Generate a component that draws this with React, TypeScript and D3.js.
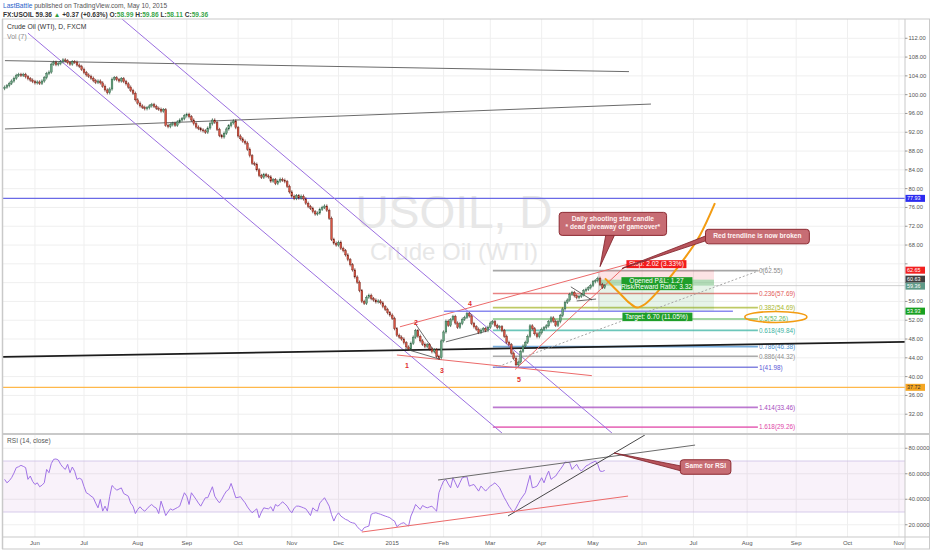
import React from "react";
import * as d3 from "d3";

// ---- data ----
const FIRST_BAR = new Date(2014, 4, 14);
const TOTAL_BARS = 390;

// daily closes, May 14 2014 .. May 8 2015
const CLOSES = [
  101.6, 101.9, 102.4, 102.9, 103.5, 104.1, 104.3, 104.1, 104.3, 103.8,
  103.4, 103.1, 102.8, 102.5, 102.7, 102.4, 102.9, 103.6, 104.5, 104.8,
  106.5, 106.9, 106.4, 106.6, 107.0, 107.4, 107.2, 106.8, 106.5, 107.0,
  106.9, 106.3, 106.0, 105.4, 104.7, 104.2, 103.9, 103.5, 103.0, 102.6,
  102.9, 102.5, 101.8, 101.0, 100.4, 101.2, 103.3, 103.6, 103.2, 102.9,
  103.4, 102.8, 102.3, 101.6, 100.9, 100.3, 98.9, 98.2, 97.6, 97.3,
  97.0, 97.2, 97.6, 97.9, 97.5, 97.1, 96.9, 96.5, 96.8, 93.5,
  93.2, 93.6, 93.9, 93.5, 94.2, 94.6, 94.9, 95.5, 95.8, 95.3,
  94.6, 93.8, 93.1, 92.8, 92.5, 92.3, 92.0, 92.9, 93.8, 94.6,
  94.1, 92.6, 91.3, 91.0, 91.8, 92.7, 93.4, 94.0, 94.4, 93.0,
  91.2, 90.6, 90.1, 89.7, 88.4, 87.0, 85.4, 85.2, 84.0, 82.8,
  82.4, 83.0, 82.7, 82.5, 81.6, 81.9, 81.1, 81.6, 82.0, 81.8,
  81.5, 80.5, 79.3, 78.4, 77.9, 78.5, 78.0, 78.4, 77.8, 76.9,
  76.2, 75.8, 75.1, 74.6, 74.8, 75.6, 76.0, 76.3, 75.4, 73.7,
  69.2, 68.4, 68.0, 68.6, 67.3, 66.8, 65.9, 64.9, 63.8, 62.7,
  61.2, 60.1, 58.3, 56.0, 55.6, 56.9, 57.3, 56.6, 56.3, 55.9,
  56.1, 55.7, 54.9, 54.3, 53.6, 53.1, 52.4, 50.2, 48.8, 48.4,
  48.0, 47.2, 46.3, 45.9, 47.1, 48.4, 49.8, 48.6, 47.6, 46.9,
  46.4, 46.8, 45.9, 45.3, 45.7, 44.3, 44.0, 47.6, 49.5, 51.8,
  50.9, 52.1, 52.8, 51.4, 50.5, 51.3, 52.2, 52.6, 53.4, 52.9,
  51.3, 50.6, 50.1, 49.4, 49.9, 50.2, 49.8, 50.5, 51.4, 51.7,
  50.9, 50.4, 50.6, 49.8, 48.6, 47.3, 46.8, 45.0, 43.9, 42.5,
  43.1, 45.4, 46.5, 47.3, 48.6, 50.8, 50.2, 49.1, 48.5, 49.3,
  50.1, 50.4, 50.8, 51.7, 52.5, 51.8, 50.9, 51.7, 53.0, 54.4,
  55.8, 56.3, 57.5, 57.9, 57.2, 56.8, 57.1, 57.4, 58.3, 58.6,
  58.9, 59.4, 60.2, 60.4, 60.9, 59.6, 58.99, 59.36,
];

// RSI(14, close) per bar
const RSI = [
  55.6, 52.9, 54.5, 56.9, 60.5, 64.8, 65.5, 66.6, 65.8, 64.8,
  55.6, 58.2, 54.0, 51.6, 52.9, 49.8, 51.0, 52.9, 63.4, 60.8,
  68.0, 71.3, 71.6, 70.8, 67.4, 65.0, 63.4, 67.4, 60.8, 65.3,
  62.0, 55.6, 56.5, 55.6, 50.0, 45.1, 44.0, 42.5, 41.2, 37.0,
  33.3, 39.9, 30.7, 34.6, 30.7, 42.0, 50.8, 49.0, 47.1, 48.0,
  48.9, 44.5, 43.5, 42.4, 37.0, 34.6, 28.8, 32.0, 34.1, 32.0,
  30.7, 32.5, 34.6, 35.9, 34.1, 33.0, 28.8, 38.5, 33.0, 27.2,
  30.0, 32.5, 31.5, 32.5, 33.5, 34.6, 40.0, 45.1, 42.4, 35.9,
  45.1, 42.5, 39.9, 37.0, 34.6, 38.0, 41.2, 41.2, 45.5, 49.8,
  42.4, 39.5, 37.2, 40.0, 43.5, 46.4, 47.7, 52.4, 47.0, 41.2,
  41.5, 42.0, 39.5, 37.2, 34.0, 31.5, 29.4, 31.0, 32.5, 25.5,
  30.0, 33.3, 32.8, 32.5, 34.1, 30.7, 35.9, 34.6, 36.0, 38.0,
  36.5, 34.6, 31.5, 29.4, 33.0, 34.6, 34.6, 34.0, 33.3, 32.5,
  30.0, 27.2, 33.3, 31.5, 30.7, 37.2, 39.0, 41.2, 38.0, 34.6,
  28.0, 22.9, 27.0, 29.4, 26.8, 25.5, 24.2, 23.5, 22.1, 21.5,
  21.1, 18.5, 16.5, 15.1, 17.7, 18.4, 19.0, 28.2, 29.0, 29.4,
  28.8, 28.2, 27.5, 26.8, 26.2, 25.5, 24.0, 22.9, 18.5, 20.0,
  21.1, 21.6, 20.0, 19.0, 26.8, 31.0, 35.9, 34.0, 32.0, 35.1,
  34.0, 33.3, 34.0, 34.6, 32.5, 30.7, 45.1, 50.0, 54.3, 55.6,
  52.0, 49.0, 56.9, 53.0, 49.0, 53.0, 56.9, 57.3, 57.7, 50.3,
  51.0, 51.6, 49.0, 46.4, 50.3, 48.5, 46.4, 48.5, 50.3, 51.5,
  52.9, 51.0, 49.0, 45.0, 41.2, 38.0, 34.6, 32.0, 29.9, 33.0,
  36.5, 39.9, 42.5, 45.1, 52.0, 58.7, 49.0, 49.5, 50.3, 53.5,
  56.9, 52.9, 58.0, 62.1, 55.6, 57.0, 58.2, 61.0, 63.5, 66.1,
  69.2, 68.9, 68.7, 63.4, 65.5, 67.4, 64.0, 62.1, 64.0, 66.1,
  67.0, 68.2, 69.0, 70.0, 67.4, 62.1, 61.8, 62.6,
];

const PRICE_TICKS = [32, 36, 40, 44, 48, 52, 56, 60, 64, 68, 72, 76, 80, 84, 88, 92, 96, 100, 104, 108, 112];
const RSI_TICKS = [20, 40, 60, 80];
const MONTH_ABBR = ["Jan", "Feb", "Mar", "Apr", "May", "Jun", "Jul", "Aug", "Sep", "Oct", "Nov", "Dec"];

// drawings: [bar, price]
const TRENDLINES: { kind: string; a: [number, number]; b: [number, number] }[] = [
  { kind: "gray", a: [0.15, 107.24], b: [267.4, 104.9] },
  { kind: "gray", a: [0.15, 92.7], b: [276.8, 98.0] },
  { kind: "channel", a: [10, 113.1], b: [213, 28.0] },
  { kind: "channel", a: [49.8, 116.3], b: [260.1, 28.0] },
  { kind: "support", a: [-2, 44.2], b: [385.6, 47.4] },
  { kind: "red", a: [169.3, 50.6], b: [270.4, 64.4] },
  { kind: "red", a: [218.6, 41.5], b: [267.8, 64.4] },
  { kind: "red", a: [168, 44.6], b: [251.5, 40.2] },
  { kind: "thin", a: [175.7, 51.4], b: [186.4, 43.7] },
  { kind: "thin", a: [171.5, 45.9], b: [186.4, 43.7] },
  { kind: "thin", a: [189, 47.4], b: [206.6, 49.7] },
  { kind: "thin", a: [242.5, 59.1], b: [251.5, 56.3] },
  { kind: "thin", a: [245, 56.1], b: [253.3, 56.5] },
  { kind: "target", a: [188.2, 53.93], b: [311.9, 53.93] },
  { kind: "dotted", a: [210, 41.9], b: [327.8, 63.4] },
];

const HLINES = [
  { kind: "blue", price: 77.93 },
  { kind: "orange", price: 37.72 },
];

const FIB_BARS: [number, number] = [209.1, 322.6];
const FIB_LEVELS = [0, 0.236, 0.382, 0.5, 0.618, 0.786, 0.886, 1, 1.414, 1.618];
const FIB_PRICES = [62.55, 57.69, 54.69, 52.26, 49.84, 46.38, 44.32, 41.98, 33.46, 29.26];
const FIB_COLORS = ["#8a8a8a", "#e25a5a", "#aab830", "#5cb85c", "#3bb3a3", "#4a90d0", "#8f8f8f", "#5b5bd6", "#a64cc0", "#e048a8"];

const ENTRY = 60.63;
const STOP = 62.65;
const TARGET = 53.93;
const LAST = 59.36;
const POS_BARS: [number, number] = [254.5, 303.8];

const PROJECTION: [number, number][] = [
  [257.1, 60.9], [263.5, 57.7], [267.8, 55.6], [270.8, 54.7], [274.2, 55.4],
  [280.6, 58.6], [291.8, 65.6], [297.8, 70.1], [304.2, 76.9],
];

const ELLIPSE = { bar: 330.3, price: 52.7, dBar: 13.3, dPrice: 1.17 };

const WAVES = [
  { t: "1", bar: 172.3, price: 42.3 },
  { t: "2", bar: 176.2, price: 51.6 },
  { t: "3", bar: 187.3, price: 41.4 },
  { t: "4", bar: 199.3, price: 55.5 },
  { t: "5", bar: 220.3, price: 39.3 },
];

const CALLOUTS = [
  { pane: "price", lines: ["Daily shooting star candle", "* dead giveaway of gameover*"], box: [260.5, 72.5], tip: [255, 63.4], side: "bottom" },
  { pane: "price", lines: ["Red trendline is now broken"], box: [322.4, 69.8], tip: [264.4, 63.0], side: "left" },
  { pane: "rsi", lines: ["Same for RSI"], box: [300.2, 65.3], tip: [261, 76.3], side: "left" },
];

const RSI_LINES: { kind: string; a: [number, number]; b: [number, number] }[] = [
  { kind: "gray", a: [185.6, 55.1], b: [295.7, 82.5] },
  { kind: "black", a: [215.6, 26.9], b: [274.2, 90.4] },
  { kind: "red", a: [153, 14.3], b: [267, 42.5] },
];

const AXIS_MARKS = [
  { v: 77.93, kind: "blue" },
  { v: 62.65, kind: "stop" },
  { v: 60.63, kind: "entry" },
  { v: 59.36, kind: "last" },
  { v: 53.93, kind: "target" },
  { v: 37.72, kind: "orange" },
];

// ---- styles ----
const FONT = "'Liberation Sans', Arial, sans-serif";
const LINE_STYLE: Record<string, { stroke: string; w: number; dash?: string }> = {
  gray: { stroke: "#6b6b6b", w: 1 },
  channel: { stroke: "#9b6fe0", w: 1 },
  support: { stroke: "#1c1c1c", w: 1.8 },
  red: { stroke: "#ec6a6a", w: 1 },
  thin: { stroke: "#444", w: 0.8 },
  target: { stroke: "#8a8af0", w: 1.5 },
  dotted: { stroke: "#a8a8a8", w: 1, dash: "2 2" },
  blue: { stroke: "#6a6ae6", w: 1.2 },
  orange: { stroke: "#ffb84a", w: 1.2 },
  black: { stroke: "#333", w: 0.9 },
};
const MARK_COLOR: Record<string, string> = {
  blue: "#2b2bf0", stop: "#f22020", entry: "#3f3f3f", last: "#5f9a88", target: "#18a020", orange: "#f5a623",
};
const UP = "#6ba583", UP_B = "#225437", DN = "#d75442", DN_B = "#5b1a13";

const W = 932, H = 550;
const L = 3, R = 905;
const P_TOP = 19, P_BOT = 433, R_TOP = 435, R_BOT = 537;

const xS = d3.scaleLinear().domain([0, 385]).range([4.6, 903.6]);
const yP = d3.scaleLinear().domain([28, 116.1]).range([P_BOT, P_TOP]);
const yR = d3.scaleLinear().domain([10.4, 90.4]).range([R_BOT, R_TOP]);

function tradingDays(start: Date, n: number) {
  const out: Date[] = [];
  const d = new Date(start);
  while (out.length < n) {
    const wd = d.getDay();
    if (wd !== 0 && wd !== 6) out.push(new Date(d));
    d.setDate(d.getDate() + 1);
  }
  return out;
}

const Callout: React.FC<{ c: typeof CALLOUTS[number] }> = ({ c }) => {
  const yS = c.pane === "rsi" ? yR : yP;
  const cx = xS(c.box[0]);
  const cy = yS(c.box[1]);
  const maxLen = d3.max(c.lines, s => s.length) ?? 0;
  const w = maxLen * 3.55 + 8;
  const h = c.lines.length * 8.5 + 6;
  const x0 = cx - w / 2, y0 = cy - h / 2;
  const tx = xS(c.tip[0]), ty = yS(c.tip[1]);
  const base = c.side === "bottom"
    ? [[cx - 7, y0 + h - 1], [cx + 2, y0 + h - 1]]
    : [[x0 + 1, cy - 1], [x0 + 1, cy + 4]];
  const pts = [base[0], [tx, ty], base[1]].map(p => p.join(",")).join(" ");
  return (
    <g>
      <polygon points={pts} fill="#b8545c" stroke="#7d1f27" strokeWidth={0.8} />
      <rect x={x0} y={y0} width={w} height={h} rx={3} fill="#c76d74" stroke="#8c2a31" strokeWidth={1} />
      {c.lines.map((s, i) => (
        <text key={i} x={cx} y={y0 + 8.5 + i * 8.5} textAnchor="middle" fontSize={6.6} fontWeight="bold" fill="#fff3f3" fontFamily={FONT}>{s}</text>
      ))}
    </g>
  );
};

export default function App() {
  const days = tradingDays(FIRST_BAR, TOTAL_BARS);
  const monthTicks: { i: number; label: string }[] = [];
  days.forEach((d, i) => {
    if (i > 0 && d.getMonth() !== days[i - 1].getMonth()) {
      const jan = d.getMonth() === 0;
      monthTicks.push({ i, label: jan ? String(d.getFullYear()) : MONTH_ABBR[d.getMonth()] });
    }
  });

  const WICK = 0.35;
  const candles = CLOSES.map((c, i) => {
    const o = i > 0 ? CLOSES[i - 1] : c - 0.3;
    return { i, o, c, h: Math.max(o, c) + WICK, l: Math.min(o, c) - WICK };
  });

  const rsiLine = d3.line<number>().x((_, i) => xS(i)).y(v => yR(v))(RSI) ?? "";
  const projLine = d3.line<[number, number]>().x(d => xS(d[0])).y(d => yP(d[1])).curve(d3.curveCatmullRom.alpha(0.5))(PROJECTION) ?? "";

  const fib = FIB_LEVELS.map((lv, k) => ({ lv, price: FIB_PRICES[k], color: FIB_COLORS[k] }));

  const px0 = xS(POS_BARS[0]), px1 = xS(POS_BARS[1]);
  const pcx = (px0 + px1) / 2;

  // axis price tags: stack them so neighbouring tags do not overlap
  const TAG_H = 7;
  const tags = AXIS_MARKS.map(m => ({ ...m, y: yP(m.v) })).sort((a, b) => a.y - b.y);
  for (let k = 1; k < tags.length; k++) {
    const gap = tags[k].y - tags[k - 1].y;
    if (gap < TAG_H) {
      const push = (TAG_H - gap) / 2;
      tags[k - 1].y -= push;
      tags[k].y += push;
    }
  }
  // tick labels hidden under a tag are not drawn (as on the chart)
  const visibleTicks = PRICE_TICKS.filter(v => tags.every(t => Math.abs(t.y - yP(v)) > 6.5));

  return (
    <div>
      <style>{`body{margin:0;background:#fff}`}</style>
      <svg width={W} height={H} style={{ display: "block", fontFamily: FONT }}>
        <defs>
          <clipPath id="cp-price"><rect x={L} y={P_TOP} width={R - L} height={P_BOT - P_TOP} /></clipPath>
          <clipPath id="cp-rsi"><rect x={L} y={R_TOP} width={R - L} height={R_BOT - R_TOP} /></clipPath>
        </defs>
        <rect width={W} height={H} fill="#fff" />

        {/* header */}
        <text x={3} y={8} fontSize={6.6}>
          <tspan fill="#2a62c9">LastBattle</tspan>
          <tspan fill="#555"> published on TradingView.com, May 10, 2015</tspan>
        </text>
        <text x={3} y={16.5} fontSize={6.6} fontWeight="bold" fill="#333">
          <tspan>FX:USOIL 59.36 </tspan>
          <tspan fill="#2e9e3e">▲</tspan>
          <tspan> +0.37 (+0.63%) O:</tspan><tspan fill="#3aa64a">58.99</tspan>
          <tspan> H:</tspan><tspan fill="#3aa64a">59.86</tspan>
          <tspan> L:</tspan><tspan fill="#3aa64a">58.11</tspan>
          <tspan> C:</tspan><tspan fill="#3aa64a">59.36</tspan>
        </text>

        {/* grids */}
        <g stroke="#efefef" strokeWidth={1}>
          {PRICE_TICKS.map(v => <line key={v} x1={L} x2={R} y1={yP(v)} y2={yP(v)} />)}
          {RSI_TICKS.map(v => <line key={"r" + v} x1={L} x2={R} y1={yR(v)} y2={yR(v)} />)}
          {monthTicks.map(t => (
            <g key={t.i}>
              <line x1={xS(t.i)} x2={xS(t.i)} y1={P_TOP} y2={P_BOT} />
              <line x1={xS(t.i)} x2={xS(t.i)} y1={R_TOP} y2={R_BOT} />
            </g>
          ))}
        </g>

        {/* price pane */}
        <g clipPath="url(#cp-price)">
          <text x={(L + R) / 2} y={(P_TOP + P_BOT) / 2 + 2} textAnchor="middle" fontSize={46} fill="#e7e7e7">USOIL, D</text>
          <text x={(L + R) / 2} y={(P_TOP + P_BOT) / 2 + 34} textAnchor="middle" fontSize={24} fill="#e7e7e7">Crude Oil (WTI)</text>

          {HLINES.map((h, k) => {
            const s = LINE_STYLE[h.kind];
            return <line key={k} x1={L} x2={R} y1={yP(h.price)} y2={yP(h.price)} stroke={s.stroke} strokeWidth={s.w} />;
          })}
          <line x1={px1} x2={R} y1={yP(LAST)} y2={yP(LAST)} stroke="#c4c4c4" strokeWidth={0.8} />

          {/* fib retracement */}
          {fib.map(f => (
            <g key={f.lv}>
              <line x1={xS(FIB_BARS[0])} x2={xS(FIB_BARS[1])} y1={yP(f.price)} y2={yP(f.price)} stroke={f.color} strokeWidth={1.6} strokeOpacity={0.75} />
              <text x={xS(FIB_BARS[1]) + 1} y={yP(f.price) + 2.3} fontSize={6.4} fill={f.color}>{`${f.lv}(${f.price.toFixed(2)})`}</text>
            </g>
          ))}

          {/* short position */}
          <rect x={px0} y={yP(STOP)} width={px1 - px0} height={yP(ENTRY) - yP(STOP)} fill="#f23645" fillOpacity={0.14} />
          <rect x={px0} y={yP(ENTRY)} width={px1 - px0} height={yP(TARGET) - yP(ENTRY)} fill="#3aa54a" fillOpacity={0.13} />
          <rect x={px0} y={yP(ENTRY)} width={px1 - px0} height={yP(LAST) - yP(ENTRY)} fill="#3aa54a" fillOpacity={0.3} />
          <line x1={px0} x2={px0} y1={yP(STOP)} y2={yP(TARGET)} stroke="#bbb" strokeWidth={0.8} />

          {TRENDLINES.map((t, k) => {
            const s = LINE_STYLE[t.kind];
            return <line key={k} x1={xS(t.a[0])} y1={yP(t.a[1])} x2={xS(t.b[0])} y2={yP(t.b[1])} stroke={s.stroke} strokeWidth={s.w} strokeDasharray={s.dash} />;
          })}

          {/* candles */}
          {candles.map(d => {
            const up = d.c >= d.o;
            const x = xS(d.i);
            const top = yP(Math.max(d.o, d.c));
            const bh = Math.max(1, yP(Math.min(d.o, d.c)) - top);
            return (
              <g key={d.i}>
                <line x1={x} x2={x} y1={yP(d.h)} y2={yP(d.l)} stroke={up ? UP_B : DN_B} strokeWidth={0.7} />
                <rect x={x - 0.9} y={top} width={1.8} height={bh} fill={up ? UP : DN} stroke={up ? UP_B : DN_B} strokeWidth={0.35} />
              </g>
            );
          })}

          <path d={projLine} fill="none" stroke="#f39c12" strokeWidth={2} />
          <ellipse
            cx={xS(ELLIPSE.bar)} cy={yP(ELLIPSE.price)}
            rx={xS(ELLIPSE.bar + ELLIPSE.dBar) - xS(ELLIPSE.bar)}
            ry={yP(ELLIPSE.price - ELLIPSE.dPrice) - yP(ELLIPSE.price)}
            fill="none" stroke="#f39c12" strokeWidth={1.6}
          />

          {WAVES.map(w => (
            <text key={w.t} x={xS(w.bar)} y={yP(w.price) + 2.5} textAnchor="middle" fontSize={7} fontWeight="bold" fill="#e03030">{w.t}</text>
          ))}

          {/* position labels */}
          <g fontSize={6.6} fill="#fff" textAnchor="middle">
            <rect x={pcx - 30} y={yP(STOP) - 10} width={60} height={8} fill="#f21c1c" />
            <text x={pcx} y={yP(STOP) - 3.8}>Stop: 2.02 (3.33%)</text>
            <rect x={pcx - 35} y={yP(ENTRY) - 2.5} width={71} height={13} fill="#1f9e2a" />
            <text x={pcx} y={yP(ENTRY) + 3.3}>Opened P&amp;L: 1.27</text>
            <text x={pcx} y={yP(ENTRY) + 9}>Risk/Reward Ratio: 3.32</text>
            <rect x={pcx - 34} y={yP(TARGET) + 1.5} width={70} height={8.5} fill="#1f9e2a" />
            <text x={pcx} y={yP(TARGET) + 8}>Target: 6.70 (11.05%)</text>
          </g>

          {CALLOUTS.filter(c => c.pane === "price").map((c, k) => <Callout key={k} c={c} />)}

          <text x={7} y={29} fontSize={6.8} fill="#333">Crude Oil (WTI), D, FXCM</text>
          <text x={7} y={38.5} fontSize={6.8} fill="#8a8a8a">Vol (7)</text>
        </g>

        {/* RSI pane */}
        <g clipPath="url(#cp-rsi)">
          <rect x={L} y={yR(70)} width={R - L} height={yR(30) - yR(70)} fill="#9c27b0" fillOpacity={0.06} />
          <line x1={L} x2={R} y1={yR(70)} y2={yR(70)} stroke="#cdbfe6" strokeWidth={0.8} />
          <line x1={L} x2={R} y1={yR(30)} y2={yR(30)} stroke="#cdbfe6" strokeWidth={0.8} />
          <path d={rsiLine} fill="none" stroke="#a173e6" strokeWidth={1} />
          {RSI_LINES.map((t, k) => {
            const s = t.kind === "red" ? LINE_STYLE.red : t.kind === "black" ? LINE_STYLE.black : LINE_STYLE.gray;
            return <line key={k} x1={xS(t.a[0])} y1={yR(t.a[1])} x2={xS(t.b[0])} y2={yR(t.b[1])} stroke={s.stroke} strokeWidth={s.w} />;
          })}
          {CALLOUTS.filter(c => c.pane === "rsi").map((c, k) => <Callout key={k} c={c} />)}
          <text x={7} y={443} fontSize={6.6} fill="#555">RSI (14, close)</text>
        </g>

        {/* frame */}
        <g stroke="#c9c9c9" fill="none">
          <line x1={2.5} x2={2.5} y1={P_TOP} y2={549} strokeWidth={1.5} />
          <line x1={2} x2={930} y1={P_TOP} y2={P_TOP} />
          <line x1={2} x2={930} y1={434} y2={434} strokeWidth={2} />
          <line x1={2} x2={930} y1={R_BOT} y2={R_BOT} />
          <line x1={R} x2={R} y1={P_TOP} y2={549} />
          <line x1={929.5} x2={929.5} y1={P_TOP} y2={549} />
          <line x1={2} x2={930} y1={549} y2={549} />
        </g>

        {/* price axis */}
        <g fontSize={5.8} fill="#555">
          {PRICE_TICKS.map(v => (
            <line key={"t" + v} x1={R} x2={R + 2.5} y1={yP(v)} y2={yP(v)} stroke="#999" />
          ))}
          {visibleTicks.map(v => (
            <text key={v} x={R + 3.5} y={yP(v) + 2}>{v.toFixed(2)}</text>
          ))}
          {RSI_TICKS.map(v => (
            <g key={"r" + v}>
              <line x1={R} x2={R + 2.5} y1={yR(v)} y2={yR(v)} stroke="#999" />
              <text x={R + 3.5} y={yR(v) + 2}>{v.toFixed(4)}</text>
            </g>
          ))}
        </g>
        {tags.map(m => (
          <g key={m.v}>
            <rect x={R + 0.5} y={m.y - TAG_H / 2} width={19.5} height={TAG_H} fill={MARK_COLOR[m.kind]} />
            <text x={R + 2} y={m.y + 1.9} fontSize={5.4} fill={m.kind === "orange" ? "#333" : "#fff"}>{m.v.toFixed(2)}</text>
          </g>
        ))}

        {/* time axis */}
        <g fontSize={6} fill="#555" textAnchor="middle">
          {monthTicks.filter(t => xS(t.i) < R - 4).map(t => (
            <text key={t.i} x={xS(t.i)} y={545}>{t.label}</text>
          ))}
        </g>
      </svg>
    </div>
  );
}
